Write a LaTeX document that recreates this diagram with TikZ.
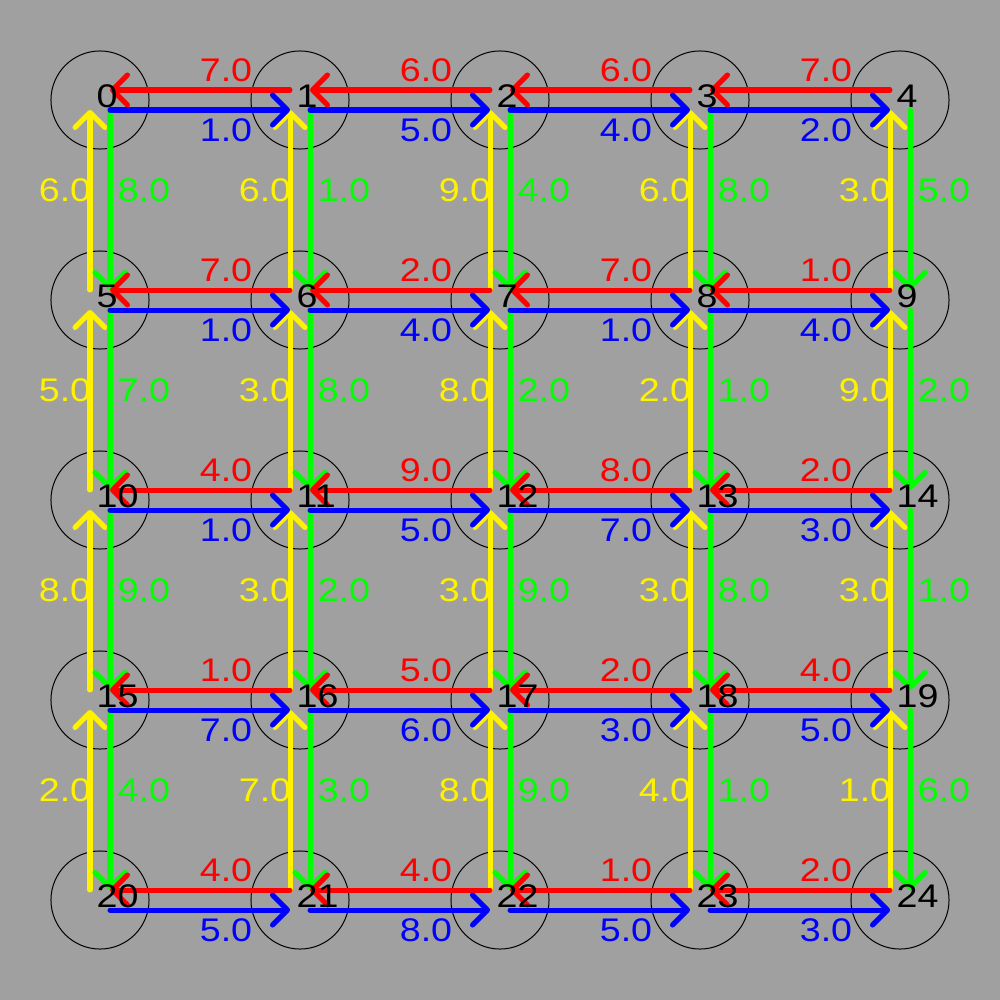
\documentclass[tikz,border=0pt]{standalone}
\usepackage{fontspec}
\setmainfont[FakeStretch=1.15]{Liberation Sans}
\usetikzlibrary{arrows.meta}
\definecolor{bg}{RGB}{160,160,160}
\begin{document}
\begin{tikzpicture}[x=0.01cm,y=-0.01cm,
  nodecirc/.style={circle,draw=black,line width=0.01cm,minimum size=0.98cm,inner sep=0pt},
  numtext/.style={anchor=west,inner sep=0pt,font=\fontsize{9.3}{9.3}\selectfont,text=black},
  edgearrow/.style={line width=0.05cm,line cap=round,-{Straight Barb[length=0.15cm,width=0.30cm,round]}},
  lbl/.style={inner sep=0pt,font=\fontsize{9.3}{9.3}\selectfont}]
\fill[bg] (0,0) rectangle (1000,1000);
\useasboundingbox (0,0) rectangle (1000,1000);
% nodes
\foreach \r in {0,...,4} {
  \foreach \c in {0,...,4} {
    \pgfmathtruncatemacro\i{5*\r+\c}
    \node[nodecirc] (n\i) at ({100+200*\c},{100+200*\r}) {};
  }
}
% yellow (upward)
\foreach \v [count=\k from 0] in {6,6,9,6,3, 5,3,8,2,9, 8,3,3,3,3, 2,7,8,4,1} {
  \pgfmathtruncatemacro\j{\k+5}
  \draw[edgearrow,yellow] ([shift={(-10,-10)}]n\j.center) -- node[lbl,text=yellow,shift={(-25,-10)}] (yl\k) {\v.0} ([shift={(-10,10)}]n\k.center);
}
% green (downward)
\foreach \v [count=\k from 0] in {8,1,4,8,5, 7,8,2,1,2, 9,2,9,8,1, 4,3,9,1,6} {
  \pgfmathtruncatemacro\j{\k+5}
  \draw[edgearrow,green] ([shift={(10,10)}]n\k.center) -- node[lbl,text=green,shift={(34,-10)}] (gl\k) {\v.0} ([shift={(10,-10)}]n\j.center);
}
% red (leftward)
\foreach \v [count=\k from 0] in {7,6,6,7, 7,2,7,1, 4,9,8,2, 1,5,2,4, 4,4,1,2} {
  \pgfmathtruncatemacro\i{5*int(\k/4)+mod(\k,4)}
  \pgfmathtruncatemacro\j{\i+1}
  \draw[edgearrow,red] ([shift={(-10,-10)}]n\j.center) -- node[lbl,text=red,shift={(26,-20)}] (rl\k) {\v.0} ([shift={(10,-10)}]n\i.center);
}
% blue (rightward)
\foreach \v [count=\k from 0] in {1,5,4,2, 1,4,1,4, 1,5,7,3, 7,6,3,5, 5,8,5,3} {
  \pgfmathtruncatemacro\i{5*int(\k/4)+mod(\k,4)}
  \pgfmathtruncatemacro\j{\i+1}
  \draw[edgearrow,blue] ([shift={(10,10)}]n\i.center) -- node[lbl,text=blue,shift={(26,20)}] (bl\k) {\v.0} ([shift={(-10,10)}]n\j.center);
}
% node numbers
\foreach \r in {0,...,4} {
  \foreach \c in {0,...,4} {
    \pgfmathtruncatemacro\i{5*\r+\c}
    \node[numtext] (t\i) at ({96+200*\c},{96+200*\r}) {\i};
  }
}
\end{tikzpicture}
\end{document}
